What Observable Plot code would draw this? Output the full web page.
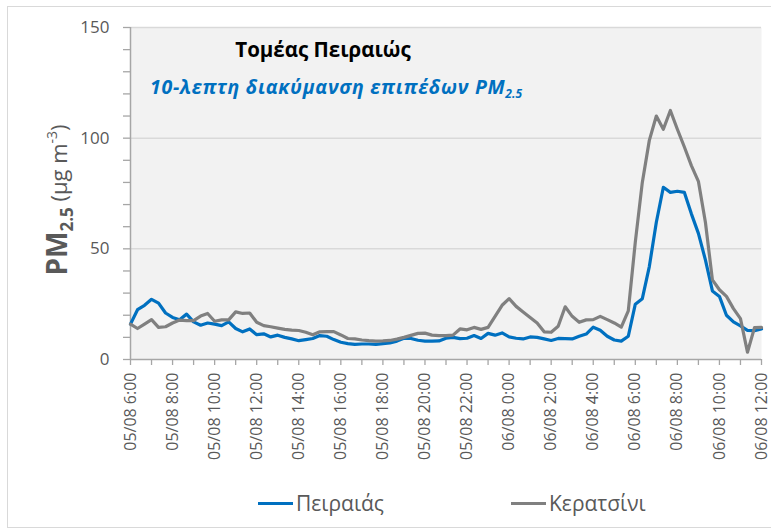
<!DOCTYPE html>
<html>
<head>
<meta charset="utf-8">
<script src="https://cdn.jsdelivr.net/npm/d3@7"></script>
<script src="https://cdn.jsdelivr.net/npm/@observablehq/plot@0.6"></script>
<style>
  html, body { margin: 0; padding: 0; background: #fff; }
  #wrap { position: relative; width: 771px; height: 531px; overflow: hidden; font-family: "Open Sans", "Noto Sans", sans-serif; }
  #border { position: absolute; left: 7px; top: 6px; width: 800px; height: 520px; border-left: 1px solid #d9d9d9; border-top: 1px solid #d9d9d9; border-bottom: 1px solid #d9d9d9; }
  #chart { position: absolute; left: 0; top: 0; }
  .title { position: absolute; left: 323px; top: 35px; transform: translateX(-50%); font-weight: 700; font-size: 20.5px; color: #000; white-space: nowrap; }
  .subtitle { position: absolute; left: 336px; top: 73px; transform: translateX(-50%); font-weight: 700; font-style: italic; font-size: 19.5px; letter-spacing: 0.7px; color: #0070c0; white-space: nowrap; }
  .subtitle sub { font-size: 12px; vertical-align: -4px; line-height: 0; letter-spacing: 0; }
  .ylabel { position: absolute; left: 56px; top: 200px; transform: translate(-50%, -50%) rotate(-90deg); color: #595959; white-space: nowrap; font-size: 22px; }
  .ylabel b { font-size: 28px; }
  .ylabel sub { font-size: 17px; font-weight: 700; vertical-align: -6px; line-height: 0; }
  .ylabel sup { font-size: 14px; vertical-align: 10px; line-height: 0; }
  .legend { position: absolute; top: 489px; font-size: 21px; color: #595959; white-space: nowrap; display: flex; align-items: center; }
  .legend span.sw { display: inline-block; width: 35px; height: 3px; margin-right: 3px; }
</style>
</head>
<body>
<div id="wrap">
  <div id="border"></div>
  <div id="chart"></div>
  <div class="title">Τομέας Πειραιώς</div>
  <div class="subtitle">10-λεπτη διακύμανση επιπέδων PM<sub>2.5</sub></div>
  <div class="ylabel"><b>PM</b><sub>2.5</sub> (μg m<sup>-3</sup>)</div>
  <div class="legend" style="left:258px"><span class="sw" style="background:#0070c0"></span>Πειραιάς</div>
  <div class="legend" style="left:511px"><span class="sw" style="background:#808080"></span>Κερατσίνι</div>
</div>
<script>
// Series names
const seriesNames = ["Πειραιάς", "Κερατσίνι"];
// Time grid: start 05/08 06:00, one reading every 20 minutes, until 06/08 12:00
const startTime = "2021-08-05T06:00:00Z";
const stepMinutes = 20;
// Πειραιάς PM2.5 (μg/m3)
const piraeus = [
  16, 22.5, 24.5, 27.2, 25.5, 21, 19, 18, 20.5, 17, 15.5, 16.5,
  16, 15.3, 17, 14, 12.5, 13.8, 11.2, 11.6, 10.2, 11, 10, 9.3,
  8.5, 9, 9.5, 10.8, 10.5, 9, 7.8, 7.2, 6.8, 7, 7, 6.8,
  7.2, 7.5, 8.3, 9.6, 9.5, 8.7, 8.3, 8.3, 8.4, 9.6, 10, 9.4,
  9.6, 10.8, 9.5, 11.8, 11, 12, 10.2, 9.6, 9.3, 10.2, 10, 9.3,
  8.6, 9.5, 9.4, 9.3, 10.5, 11.5, 14.6, 13.2, 10.5, 8.8, 8.3, 10.5,
  25, 27.5, 42, 62, 77.8, 75.5, 76, 75.5, 65.8, 57, 45, 31,
  28.5, 20, 17, 15.2, 13.2, 13, 13.8
];
// Κερατσίνι PM2.5 (μg/m3)
const keratsini = [
  16, 14, 16, 18, 14.5, 14.8, 16.5, 17.8, 17.6, 17.6, 19.6, 20.8,
  17.3, 17.9, 17.9, 21.5, 20.8, 21, 16.8, 15.3, 14.8, 14.2, 13.6, 13.3,
  13.1, 12.3, 11.2, 12.5, 12.6, 12.6, 11.1, 9.5, 9.3, 8.8, 8.5, 8.3,
  8.4, 8.6, 9.2, 10, 10.9, 11.8, 11.9, 11, 10.8, 10.8, 11, 13.8,
  13.4, 14.5, 13.6, 14.5, 19.5, 24.5, 27.5, 24, 21.5, 19, 16.5, 12.5,
  12.3, 15, 23.8, 19.5, 16.8, 17.9, 18, 19.5, 18, 16.5, 14.6, 22,
  53, 80, 99, 110, 104, 112.5, 104, 96, 87.6, 80.5, 62, 36,
  31.5, 28.5, 23, 18.5, 3.3, 14.4, 14.5
];
const yTicks = [0, 50, 100, 150];
const colors = ["#0070c0", "#808080"];

const t0 = new Date(startTime);
const toTime = i => new Date(+t0 + i * stepMinutes * 60000);
const rows = [];
[piraeus, keratsini].forEach((arr, s) => arr.forEach((v, i) => rows.push({series: seriesNames[s], time: toTime(i), value: v})));
const tEnd = toTime(piraeus.length - 1);
const fmt = d3.utcFormat("%d/%m %-H:%M");
const hourTicks = d3.utcHour.range(t0, new Date(+tEnd + 1));

const chart = Plot.plot({
  width: 771,
  height: 470,
  marginLeft: 130,
  marginRight: 10,
  marginTop: 27,
  marginBottom: 111,
  style: {fontFamily: "'Open Sans', 'Noto Sans', sans-serif", background: "transparent", overflow: "visible"},
  x: {type: "utc", domain: [t0, tEnd]},
  y: {domain: [0, 150]},
  marks: [
    Plot.frame({fill: "#f2f2f2", stroke: null}),
    Plot.gridY(yTicks.slice(1), {stroke: "#d9d9d9", strokeOpacity: 1, strokeWidth: 1.5}),
    Plot.axisY(d3.range(0, 151, 10), {
      tickSize: 7, tickPadding: 14, fontSize: 17, fill: "#595959", stroke: "#a6a6a6", strokeWidth: 1.3,
      tickFormat: d => yTicks.includes(d) ? String(d) : "", label: null
    }),
    Plot.axisX(hourTicks, {
      tickSize: 6, tickPadding: 7, tickRotate: -90, fontSize: 16, fill: "#595959", stroke: "#a6a6a6", strokeWidth: 1.3,
      tickFormat: d => d.getUTCHours() % 2 === 0 ? fmt(d) : "", label: null
    }),
    Plot.ruleY([0], {stroke: "#a6a6a6", strokeWidth: 1.5}),
    Plot.ruleX([t0], {stroke: "#a6a6a6", strokeWidth: 1.5}),
    Plot.line(rows.filter(d => d.series === seriesNames[0]), {x: "time", y: "value", stroke: colors[0], strokeWidth: 3.2, strokeLinejoin: "round"}),
    Plot.line(rows.filter(d => d.series === seriesNames[1]), {x: "time", y: "value", stroke: colors[1], strokeWidth: 3.2, strokeLinejoin: "round"})
  ]
});
document.getElementById("chart").appendChild(chart);
</script>
</body>
</html>
